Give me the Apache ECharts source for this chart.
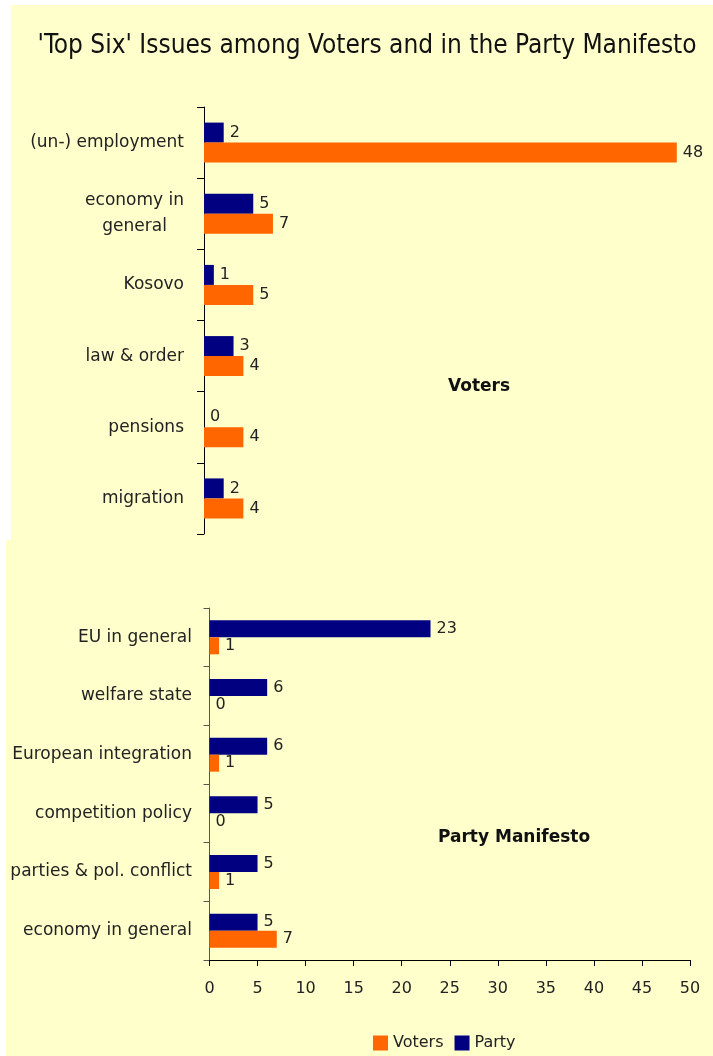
<!DOCTYPE html>
<html>
<head>
<meta charset="utf-8">
<script src="https://cdn.jsdelivr.net/npm/echarts@6/dist/echarts.min.js"></script>
<style>
html,body{margin:0;padding:0;background:#fff;}
#chart{width:713px;height:1056px;}
</style>
</head>
<body>
<div id="chart"></div>
<script>
// ---- data ----
const titleText = "'Top Six' Issues among Voters and in the Party Manifesto";
const seriesNames = ['Voters', 'Party'];
const votersCategories = ['(un-) employment', 'economy in\ngeneral', 'Kosovo', 'law & order', 'pensions', 'migration'];
const votersPanelVoters = [48, 7, 5, 4, 4, 4];
const votersPanelParty = [2, 5, 1, 3, 0, 2];
const partyCategories = ['EU in general', 'welfare state', 'European integration', 'competition policy', 'parties & pol. conflict', 'economy in general'];
const partyPanelVoters = [1, 0, 1, 0, 1, 7];
const partyPanelParty = [23, 6, 6, 5, 5, 5];
const xTickMin = 0, xTickMax = 50, xTickStep = 5;

// ---- styles ----
const FONT = "'DejaVu Sans', sans-serif";
const ORANGE = '#FF6600';
const NAVY = '#000080';
const BG = '#FFFFCC';
const TXT = '#222222';

const chart = echarts.init(document.getElementById('chart'), null, {renderer: 'canvas'});

function catLabel(margin) {
  return {
    margin: margin,
    formatter: v => v.split('\n').map(s => '{c|' + s + '}').join('\n'),
    rich: { c: { align: 'center', fontSize: 17, color: TXT, fontFamily: FONT, lineHeight: 26 } }
  };
}

function barLabel() {
  return { show: true, position: 'right', distance: 6, fontSize: 16, color: TXT, fontFamily: FONT };
}

const option = {
  backgroundColor: 'transparent',
  animation: false,
  textStyle: { fontFamily: FONT },
  graphic: [
    { type: 'rect', z: -10, shape: { x: 11, y: 5, width: 702, height: 535 }, style: { fill: BG } },
    { type: 'rect', z: -10, shape: { x: 6, y: 540, width: 707, height: 516 }, style: { fill: BG } },
    { type: 'text', x: 367, y: 46, style: { text: titleText, fontSize: 26, fontFamily: "'Liberation Sans Narrow', 'DejaVu Sans Condensed', sans-serif", fill: '#111', textAlign: 'center', textVerticalAlign: 'middle' } },
    { type: 'text', x: 448, y: 387, style: { text: 'Voters', fontSize: 17, fontWeight: 'bold', fontFamily: FONT, fill: '#111', textAlign: 'left', textVerticalAlign: 'middle' } },
    { type: 'text', x: 438, y: 838, style: { text: 'Party Manifesto', fontSize: 17, fontWeight: 'bold', fontFamily: FONT, fill: '#111', textAlign: 'left', textVerticalAlign: 'middle' } }
  ],
  legend: {
    data: seriesNames,
    left: 368, top: 1030,
    icon: 'rect', itemWidth: 15, itemHeight: 15, itemGap: 11,
    textStyle: { fontSize: 16, color: TXT, fontFamily: FONT }
  },
  grid: [
    { left: 204, right: 16.5, top: 107, height: 427 },
    { left: 209.5, right: 23, top: 608, height: 352 }
  ],
  xAxis: [
    { gridIndex: 0, type: 'value', min: xTickMin, max: xTickMax, interval: xTickStep, show: false },
    { gridIndex: 1, type: 'value', min: xTickMin, max: xTickMax, interval: xTickStep,
      axisLine: { show: true, lineStyle: { color: '#000', width: 1 } },
      axisTick: { show: true, length: 6, lineStyle: { color: '#000' } },
      axisLabel: { fontSize: 16, color: TXT, fontFamily: FONT, margin: 21 },
      splitLine: { show: false } }
  ],
  yAxis: [
    { gridIndex: 0, type: 'category', data: votersCategories, inverse: true,
      axisLine: { show: true, lineStyle: { color: '#000', width: 1 } },
      axisTick: { show: true, length: 7, lineStyle: { color: '#000' } },
      axisLabel: catLabel(20) },
    { gridIndex: 1, type: 'category', data: partyCategories, inverse: true,
      axisLine: { show: true, lineStyle: { color: '#555', width: 1 } },
      axisTick: { show: true, length: 6, lineStyle: { color: '#555' } },
      axisLabel: catLabel(17.5) }
  ],
  series: [
    { name: 'Party', type: 'bar', xAxisIndex: 0, yAxisIndex: 0, data: votersPanelParty, barWidth: 20, barGap: '0%', itemStyle: { color: NAVY }, label: barLabel() },
    { name: 'Voters', type: 'bar', xAxisIndex: 0, yAxisIndex: 0, data: votersPanelVoters, barWidth: 20, barGap: '0%', itemStyle: { color: ORANGE }, label: barLabel() },
    { name: 'Party', type: 'bar', xAxisIndex: 1, yAxisIndex: 1, data: partyPanelParty, barWidth: 17, barGap: '0%', itemStyle: { color: NAVY }, label: barLabel() },
    { name: 'Voters', type: 'bar', xAxisIndex: 1, yAxisIndex: 1, data: partyPanelVoters, barWidth: 17, barGap: '0%', itemStyle: { color: ORANGE }, label: barLabel() }
  ]
};
chart.setOption(option);
</script>
</body>
</html>
